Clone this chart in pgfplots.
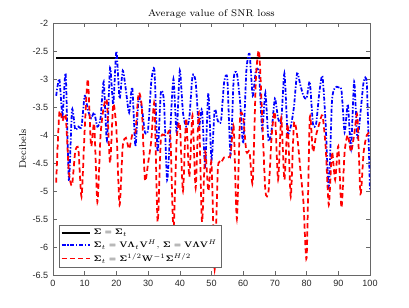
\documentclass[border=0pt]{standalone}
\usepackage{pgfplots}
\pgfplotsset{compat=1.18}
\usepackage[no-math]{fontspec}
\newfontfamily\arialf{Liberation Sans}
\definecolor{axgray}{RGB}{38,38,38}
\begin{document}
\begin{tikzpicture}
\begin{axis}[
  scale only axis,
  width=237.75pt, height=189pt,
  xmin=0, xmax=100, ymin=-6.5, ymax=-2,
  xtick={0,10,...,100},
  ytick={-6.5,-6,-5.5,-5,-4.5,-4,-3.5,-3,-2.5,-2},
  yticklabels={-6.5,-6,-5.5,-5,-4.5,-4,-3.5,-3,-2.5,-2},
  xticklabels={0,10,20,30,40,50,60,70,80,90,100},
  tick align=inside,
  major tick length=3pt,
  axis line style={draw=axgray!70, line width=0.4pt},
  tick style={draw=axgray!70, line width=0.4pt},
  ticklabel style={font=\arialf\fontsize{6.8}{7}\selectfont, text=axgray},
  title={Average value of SNR loss},
  title style={font=\fontsize{7.3}{8}\selectfont, yshift=-6.5pt},
  ylabel={Decibels},
  ylabel style={font=\fontsize{7.5}{8}\selectfont, yshift=-2pt},
  legend style={at={(0.019,0.028)}, anchor=south west, font=\fontsize{6.3}{7}\selectfont,
    draw=axgray!70, line width=0.4pt, inner sep=1pt, row sep=-1.5pt,
    cells={anchor=west}},
  legend cell align=left,
  legend image code/.code={\draw[#1] (0cm,0cm) -- (0.75cm,0cm);},
]
\addplot[black, line width=1.5pt] coordinates {(1,-2.62) (100,-2.62)};
\addlegendentry{$\mathbf{\Sigma}=\mathbf{\Sigma}_t$}
\addplot[blue, line width=1.3pt, dash pattern=on 3pt off 1.3pt on 1pt off 1.3pt, smooth, tension=0.4] coordinates {
(1,-3.3) (2,-3.0) (3,-3.65) (4,-2.9) (5,-4.8) (6,-3.55) (7,-3.9) (8,-3.85) (9,-3.85) (10,-3.3)
(11,-3.55) (12,-3.7) (13,-3.6) (14,-3.85) (15,-3.7) (16,-3.05) (17,-4.1) (18,-2.8) (19,-3.45) (20,-2.5)
(21,-3.35) (22,-2.85) (23,-3.2) (24,-3.6) (25,-3.15) (26,-4.2) (27,-3.35) (28,-3.5) (29,-3.95) (30,-3.9)
(31,-3.05) (32,-2.85) (33,-4.3) (34,-3.25) (35,-3.4) (36,-4.8) (37,-3.9) (38,-3.0) (39,-3.95) (40,-2.85)
(41,-3.6) (42,-3.85) (43,-3.7) (44,-2.95) (45,-3.05) (46,-3.85) (47,-3.55) (48,-4.55) (49,-3.25) (50,-4.45)
(51,-3.55) (52,-3.75) (53,-3.75) (54,-3.05) (55,-3.0) (56,-4.35) (57,-3.0) (58,-2.9) (59,-3.4) (60,-4.15)
(61,-2.85) (62,-2.55) (63,-3.3) (64,-2.85) (65,-2.9) (66,-3.9) (67,-3.25) (68,-4.1) (69,-3.9) (70,-3.35)
(71,-3.7) (72,-3.75) (73,-2.9) (74,-3.95) (75,-3.85) (76,-3.5) (77,-2.9) (78,-3.1) (79,-3.3) (80,-3.35)
(81,-3.05) (82,-3.8) (83,-3.8) (84,-3.25) (85,-2.95) (86,-3.8) (87,-4.95) (88,-3.4) (89,-3.15) (90,-3.15)
(91,-3.2) (92,-3.95) (93,-3.45) (94,-4.25) (95,-3.05) (96,-4.05) (97,-3.6) (98,-3.05) (99,-3.1) (100,-5.0)
};
\addlegendentry{$\mathbf{\Sigma}_t=\mathbf{V}\mathbf{\Lambda}_t\mathbf{V}^H$, $\mathbf{\Sigma}=\mathbf{V}\mathbf{\Lambda}\mathbf{V}^H$}
\addplot[red, line width=1.3pt, dash pattern=on 3.8pt off 2.4pt, smooth, tension=0.4] coordinates {
(1,-4.85) (2,-3.6) (3,-3.75) (4,-3.65) (5,-4.65) (6,-4.9) (7,-4.3) (8,-4.25) (9,-5.1) (10,-3.9)
(11,-3.0) (12,-4.2) (13,-3.8) (14,-5.2) (15,-4.0) (16,-3.5) (17,-3.4) (18,-4.5) (19,-3.45) (20,-3.9)
(21,-5.25) (22,-4.2) (23,-4.05) (24,-4.25) (25,-4.0) (26,-3.95) (27,-3.25) (28,-3.5) (29,-4.8) (30,-4.5)
(31,-4.1) (32,-3.45) (33,-5.55) (34,-4.1) (35,-4.0) (36,-4.0) (37,-4.0) (38,-5.7) (39,-4.1) (40,-3.8)
(41,-5.0) (42,-3.7) (43,-4.75) (44,-3.65) (45,-4.95) (46,-3.6) (47,-5.55) (48,-4.3) (49,-5.0) (50,-4.5)
(51,-6.4) (52,-4.6) (53,-4.5) (54,-4.4) (55,-4.4) (56,-4.35) (57,-3.85) (58,-5.5) (59,-3.7) (60,-3.7)
(61,-4.3) (62,-4.3) (63,-4.85) (64,-3.0) (65,-2.5) (66,-3.7) (67,-5.0) (68,-5.0) (69,-4.0) (70,-3.6)
(71,-4.8) (72,-3.7) (73,-4.8) (74,-3.8) (75,-5.1) (76,-3.8) (77,-4.0) (78,-4.6) (79,-5.2) (80,-6.2)
(81,-3.7) (82,-4.3) (83,-4.0) (84,-3.8) (85,-3.65) (86,-4.2) (87,-5.25) (88,-4.3) (89,-4.8) (90,-4.2)
(91,-5.3) (92,-4.3) (93,-4.0) (94,-4.3) (95,-4.0) (96,-3.65) (97,-5.05) (98,-4.3) (99,-4.0) (100,-3.95)
};
\addlegendentry{$\mathbf{\Sigma}_t=\mathbf{\Sigma}^{1/2}\mathbf{W}^{-1}\mathbf{\Sigma}^{H/2}$}
\coordinate (bl) at (rel axis cs:0,0);
\coordinate (tr) at (rel axis cs:1,1);
\end{axis}
\path ([xshift=-39.75pt,yshift=-24pt]bl) rectangle ([xshift=29.25pt,yshift=17.25pt]tr);
\end{tikzpicture}
\end{document}
